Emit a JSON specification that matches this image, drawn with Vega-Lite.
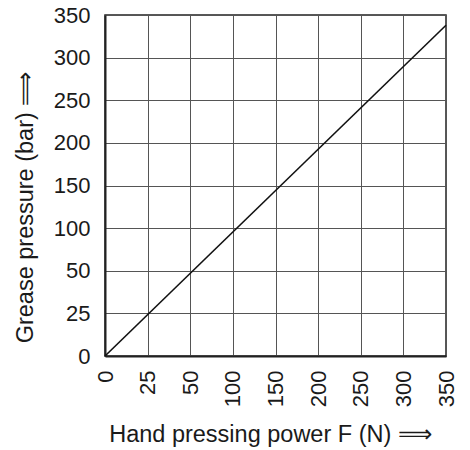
{
  "$schema": "https://vega.github.io/schema/vega-lite/v6.json",
  "width": 341,
  "height": 341,
  "autosize": {"type": "none"},
  "padding": {"left": 105, "top": 15, "right": 24, "bottom": 94},
  "background": "white",
  "config": {
    "view": {"stroke": "#222", "strokeWidth": 1.5},
    "font": "Liberation Sans",
    "axis": {
      "labelFont": "Liberation Sans",
      "titleFont": "Liberation Sans",
      "labelFontSize": 22,
      "titleFontSize": 23.5,
      "titleFontWeight": "normal",
      "labelColor": "#1a1a1a",
      "titleColor": "#1a1a1a",
      "gridColor": "#555",
      "gridOpacity": 1,
      "gridWidth": 1,
      "domainColor": "#222",
      "domainWidth": 2,
      "ticks": false
    }
  },
  "data": {
    "values": [
      {"F": 0, "p": 0},
      {"F": 350, "p": 338}
    ]
  },
  "mark": {"type": "line", "color": "#111", "strokeWidth": 1.6},
  "encoding": {
    "x": {
      "field": "F",
      "type": "quantitative",
      "scale": {"domain": [0, 25, 50, 350], "range": [0, 42.625, 85.25, 341], "nice": false, "zero": false},
      "axis": {
        "values": [0, 25, 50, 100, 150, 200, 250, 300, 350],
        "labelAngle": 270,
        "labelAlign": "right",
        "labelBaseline": "middle",
        "labelPadding": 14,
        "labelOverlap": false,
        "labelFlush": false,
        "title": "Hand pressing power F (N) ⟹",
        "titleX": 165,
        "titleY": 66,
        "titleBaseline": "top",
        "titleAnchor": "middle"
      }
    },
    "y": {
      "field": "p",
      "type": "quantitative",
      "scale": {"domain": [0, 25, 50, 350], "range": [341, 298.375, 255.75, 0], "nice": false, "zero": false},
      "axis": {
        "values": [0, 25, 50, 100, 150, 200, 250, 300, 350],
        "labelPadding": 15,
        "labelOverlap": false,
        "labelFlush": false,
        "title": "Grease pressure (bar) ⟹",
        "titleX": -80,
        "titleY": 192,
        "titleBaseline": "middle",
        "titleAnchor": "middle"
      }
    }
  }
}
